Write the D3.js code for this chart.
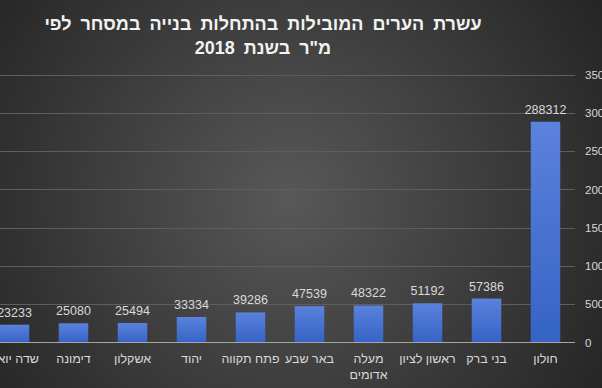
<!DOCTYPE html>
<html>
<head>
<meta charset="utf-8">
<script src="https://cdn.jsdelivr.net/npm/d3@7"></script>
<style>
  body { margin: 0; background: #2b2b2b; overflow: hidden; }
  svg { display: block; font-family: "Liberation Sans", Arial, sans-serif; }
</style>
</head>
<body>
<svg id="canvas" width="602" height="388"></svg>
<script>
// categories listed right to left, as they appear in the chart
var cities = ['חולון', 'בני ברק', 'ראשון לציון', 'מעלה אדומים', 'באר שבע', 'פתח תקווה', 'יהוד', 'אשקלון', 'דימונה', 'שדה יואב'];
var starts = [288312, 57386, 51192, 48322, 47539, 39286, 33334, 25494, 25080, 23233];
var yTicks = [0, 50000, 100000, 150000, 200000, 250000, 300000, 350000];
var titleLines = ['עשרת הערים המובילות בהתחלות בנייה במסחר לפי', 'מ"ר בשנת 2018'];

(function() {
    var width = 602, height = 388;
    var svg = d3.select('#canvas');
    var defs = svg.append('defs');

    var bg = defs.append('radialGradient')
        .attr('id', 'bg')
        .attr('gradientUnits', 'userSpaceOnUse')
        .attr('cx', 290).attr('cy', 200).attr('r', 360);
    bg.append('stop').attr('offset', '0%').attr('stop-color', '#585858');
    bg.append('stop').attr('offset', '100%').attr('stop-color', '#262626');

    var barGrad = defs.append('linearGradient')
        .attr('id', 'bar')
        .attr('x1', 0).attr('y1', 0).attr('x2', 0).attr('y2', 1);
    barGrad.append('stop').attr('offset', '0%').attr('stop-color', '#5b82dc');
    barGrad.append('stop').attr('offset', '100%').attr('stop-color', '#3563c6');

    svg.append('rect')
        .attr('width', width)
        .attr('height', height)
        .attr('fill', 'url(#bg)');

    // plot area: right edge at 575, partially cut on the left
    var x = d3.scaleBand()
        .domain(cities)
        .range([575, 575 - 59 * cities.length])
        .paddingInner(0.5)
        .paddingOuter(0.25);

    var y = d3.scaleLinear()
        .domain([0, 350000])
        .range([342.5, 74.5]);

    var grid = svg.append('g');
    grid.selectAll('line')
        .data(yTicks.slice(1))
        .enter().append('line')
        .attr('x1', -20)
        .attr('x2', 575)
        .attr('y1', function(d) { return Math.round(y(d)) + 0.5; })
        .attr('y2', function(d) { return Math.round(y(d)) + 0.5; })
        .attr('stroke', '#5e5e5e')
        .attr('stroke-width', 1);

    var yAxis = d3.axisRight(y)
        .tickValues(yTicks)
        .tickSize(0)
        .tickPadding(10)
        .tickFormat(d3.format('d'));

    var ag = svg.append('g')
        .attr('transform', 'translate(575,0)')
        .call(yAxis);
    ag.select('.domain').remove();
    ag.selectAll('text')
        .attr('fill', '#d9d9d9')
        .attr('font-size', 11.5);

    svg.append('g').selectAll('rect')
        .data(starts)
        .enter().append('rect')
        .attr('x', function(d, i) { return x(cities[i]); })
        .attr('width', x.bandwidth())
        .attr('y', function(d) { return y(d); })
        .attr('height', function(d) { return y(0) - y(d); })
        .attr('fill', 'url(#bar)');

    svg.append('line')
        .attr('x1', -20).attr('x2', 575)
        .attr('y1', 342.5).attr('y2', 342.5)
        .attr('stroke', '#a6a6a6')
        .attr('stroke-width', 1);

    svg.append('g').selectAll('text')
        .data(starts)
        .enter().append('text')
        .attr('x', function(d, i) { return x(cities[i]) + x.bandwidth() / 2; })
        .attr('y', function(d) { return y(d) - 8; })
        .attr('text-anchor', 'middle')
        .attr('fill', '#d9d9d9')
        .attr('font-size', 12.5)
        .text(function(d) { return d; });

    // category labels, wrapped to two lines when too wide for the band
    var cat = svg.append('g').selectAll('text')
        .data(cities)
        .enter().append('text')
        .attr('x', function(d) { return x(d) + x.bandwidth() / 2; })
        .attr('y', 363)
        .attr('text-anchor', 'middle')
        .attr('direction', 'rtl')
        .attr('fill', '#d9d9d9')
        .attr('font-size', 12.5);
    cat.each(function(d) {
        var words = d.split(' ');
        var el = d3.select(this);
        if (d === 'מעלה אדומים') {
            el.append('tspan').attr('x', el.attr('x')).text(words[0]);
            el.append('tspan').attr('x', el.attr('x')).attr('dy', 16).text(words[1]);
        } else {
            el.text(d);
        }
    });

    svg.append('g').selectAll('text')
        .data(titleLines)
        .enter().append('text')
        .attr('x', 263)
        .attr('y', function(d, i) { return 30 + i * 24; })
        .attr('text-anchor', 'middle')
        .attr('direction', 'rtl')
        .attr('fill', '#f2f2f2')
        .attr('font-size', 18)
        .attr('font-weight', 'bold')
        .attr('word-spacing', 4)
        .text(function(d) { return d; });
})();
</script>
</body>
</html>
